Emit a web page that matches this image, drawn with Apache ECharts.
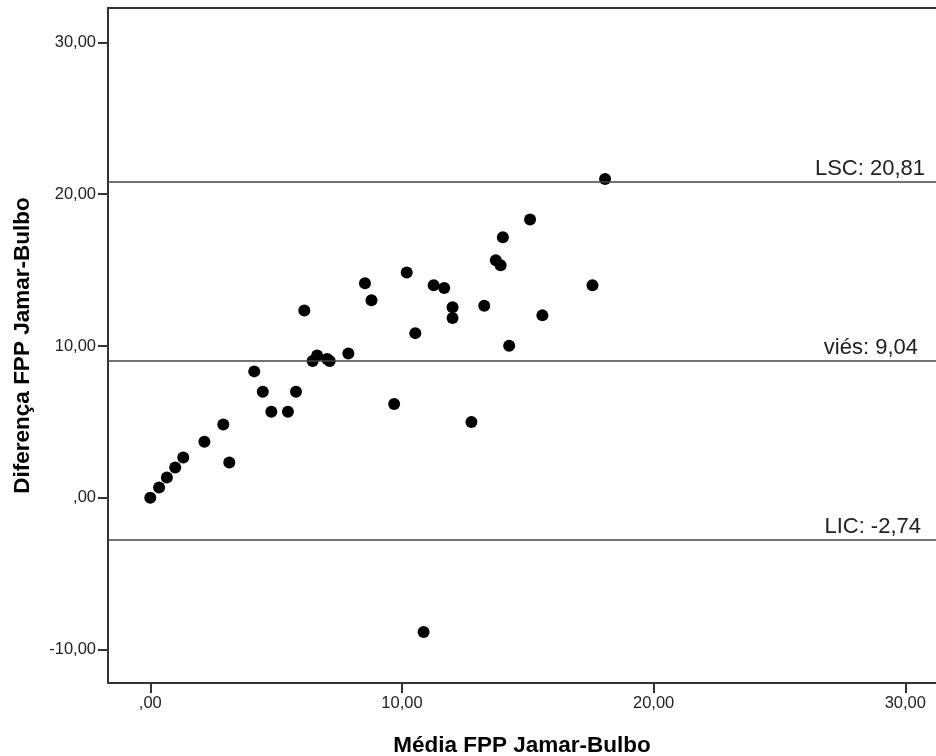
<!DOCTYPE html>
<html>
<head>
<meta charset="utf-8">
<script src="https://cdn.jsdelivr.net/npm/echarts@6/dist/echarts.min.js"></script>
<style>
html,body{margin:0;padding:0;background:#fff;}
#chart{width:936px;height:756px;}
</style>
</head>
<body>
<div id="chart"></div>
<script>
// Mean (x) and difference (y) of FPP Jamar - Bulbo
const mediaValues = [0.00,0.35,0.66,0.99,1.31,2.15,2.90,3.14,4.13,4.47,4.81,5.47,5.79,6.12,6.45,6.63,7.03,7.13,7.87,8.53,8.79,9.69,10.19,10.53,10.86,11.26,11.68,12.01,12.01,12.76,13.27,13.73,13.92,14.01,14.26,15.09,15.58,17.57,18.07];
const diffValues  = [0.00,0.68,1.34,2.00,2.66,3.69,4.83,2.33,8.33,6.99,5.67,5.67,6.99,12.34,9.02,9.38,9.15,9.01,9.51,14.14,13.01,6.18,14.84,10.85,-8.84,14.01,13.83,12.55,11.85,5.00,12.66,15.65,15.32,17.17,10.02,18.34,12.02,14.01,21.00];

const refNames  = ['LSC', 'viés', 'LIC'];
const refValues = [20.81, 9.04, -2.74];

const xTickValues = [0, 10, 20, 30];
const xTickLabels = [',00', '10,00', '20,00', '30,00'];
const yTickValues = [-10, 0, 10, 20, 30];
const yTickLabels = ['-10,00', ',00', '10,00', '20,00', '30,00'];

const xTitle = 'Média FPP Jamar-Bulbo';
const yTitle = 'Diferença FPP Jamar-Bulbo';

const points = mediaValues.map((x, i) => [x, diffValues[i]]);
const fmt = v => v.toFixed(2).replace('.', ',');
const labelFor = (vals, labels) => v => {
  const i = vals.indexOf(v);
  return i >= 0 ? labels[i] : '';
};

const labelOffsets = [[11, 2], [18, 2], [15, 1]];
const FONT = 'Liberation Sans, Arial, sans-serif';

const chart = echarts.init(document.getElementById('chart'), null, {renderer: 'canvas'});
chart.setOption({
  animation: false,
  backgroundColor: '#fff',
  textStyle: {fontFamily: FONT},
  grid: {left: 108, right: 0, top: 8, bottom: 73, containLabel: false, outerBoundsMode: 'none'},
  xAxis: [{
    type: 'value',
    min: -1.68, max: 31.22,
    name: xTitle,
    nameLocation: 'middle',
    nameGap: 51,
    nameTextStyle: {fontSize: 22.5, fontWeight: 'bold', color: '#000', fontFamily: FONT},
    axisLine: {show: true, onZero: false, lineStyle: {color: '#333', width: 2}},
    axisTick: {show: true, length: 10, customValues: xTickValues, lineStyle: {color: '#333', width: 2}},
    axisLabel: {customValues: xTickValues, margin: 12, fontSize: 16.5, color: '#222', formatter: labelFor(xTickValues, xTickLabels)},
    splitLine: {show: false}
  }, {
    type: 'value',
    position: 'top',
    min: -1.68, max: 31.22,
    axisLine: {show: true, onZero: false, lineStyle: {color: '#333', width: 2}},
    axisTick: {show: false},
    axisLabel: {show: false},
    splitLine: {show: false}
  }],
  yAxis: {
    type: 'value',
    min: -12.2, max: 32.27,
    name: yTitle,
    nameLocation: 'middle',
    nameGap: 74,
    nameRotate: 90,
    nameTextStyle: {fontSize: 22.5, fontWeight: 'bold', color: '#000', fontFamily: FONT},
    axisLine: {show: true, onZero: false, lineStyle: {color: '#333', width: 2}},
    axisTick: {show: true, length: 10, customValues: yTickValues, lineStyle: {color: '#333', width: 2}},
    axisLabel: {customValues: yTickValues, margin: 12, fontSize: 16.5, color: '#222', formatter: labelFor(yTickValues, yTickLabels)},
    splitLine: {show: false}
  },
  series: [{
    type: 'scatter',
    data: points,
    symbol: 'circle',
    symbolSize: 12,
    itemStyle: {color: '#000', opacity: 1},
    markLine: {
      silent: true,
      symbol: 'none',
      animation: false,
      lineStyle: {type: 'solid', color: '#444', width: 1.6},
      data: refValues.map((v, i) => ({
        yAxis: v,
        label: {
          show: true,
          position: 'insideEndTop',
          distance: labelOffsets[i],
          formatter: refNames[i] + ': ' + fmt(v),
          fontSize: 22,
          color: '#222',
          fontFamily: FONT
        }
      }))
    }
  }]
});
</script>
</body>
</html>
